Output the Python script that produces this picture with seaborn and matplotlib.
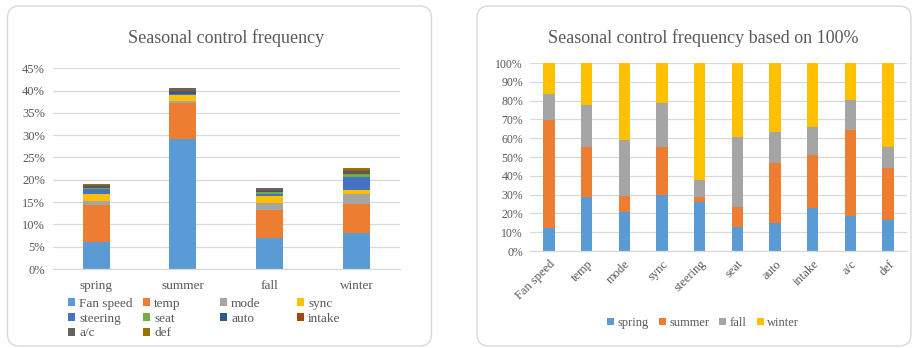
import numpy as np
import pandas as pd
import matplotlib
matplotlib.use('Agg')
import matplotlib.pyplot as plt
import seaborn as sns
from matplotlib.patches import FancyBboxPatch, Patch
from matplotlib.ticker import PercentFormatter, MultipleLocator
from matplotlib.transforms import IdentityTransform

# data
seasons = ['spring', 'summer', 'fall', 'winter']
controls = ['Fan speed', 'temp', 'mode', 'sync', 'steering', 'seat', 'auto', 'intake', 'a/c', 'def']

# share of all operations (%) per season, one list per control
fan_speed = [6.1, 29.1, 7.0, 8.1]
temp = [8.2, 8.0, 6.3, 6.4]
mode = [0.9, 0.6, 1.6, 2.3]
sync = [1.6, 1.3, 1.4, 1.0]
steering = [1.2, 0.14, 0.4, 2.9]
seat = [0.17, 0.14, 0.6, 0.5]
auto = [0.16, 0.3, 0.2, 0.4]
intake = [0.27, 0.3, 0.2, 0.4]
a_c = [0.26, 0.6, 0.4, 0.3]
defrost = [0.11, 0.19, 0.1, 0.3]

# share of each control across seasons (%), one list per season
spring_pct = [12.0, 28.8, 20.5, 29.6, 26.0, 12.9, 15.0, 22.8, 18.6, 16.5]
summer_pct = [57.6, 26.4, 8.7, 26.0, 3.0, 10.6, 31.9, 28.5, 45.7, 27.9]
fall_pct = [13.9, 22.3, 30.1, 23.2, 8.7, 37.4, 16.5, 14.5, 15.9, 11.0]
winter_pct = [16.5, 22.5, 40.7, 21.2, 62.3, 39.1, 36.6, 34.2, 19.8, 44.6]

control_colors = ['#5B9BD5', '#ED7D31', '#A5A5A5', '#FFC000', '#4472C4',
                  '#70AD47', '#255E91', '#9E480E', '#636363', '#997300']
season_colors = ['#5B9BD5', '#ED7D31', '#A5A5A5', '#FFC000']

TXT = '#595959'
GRID = '#D9D9D9'
W, H = 917, 348

sns.set_theme(style='white')
plt.rcParams['font.family'] = ['Liberation Serif', 'DejaVu Serif']


def fx(px):
    return px / W


def fy(py_top):
    # pixel from top -> figure fraction from bottom
    return (H - py_top) / H


def style_axes(ax):
    ax.set_facecolor('none')
    for s in ['top', 'right', 'left']:
        ax.spines[s].set_visible(False)
    ax.spines['bottom'].set_color(GRID)
    ax.spines['bottom'].set_linewidth(0.9)
    ax.yaxis.grid(True, color=GRID, linewidth=0.9)
    ax.xaxis.grid(False)
    ax.set_axisbelow(True)
    ax.set_xlabel('')
    ax.set_ylabel('')
    ax.yaxis.set_major_formatter(PercentFormatter(xmax=100, decimals=0))


fig = plt.figure(figsize=(W / 100, H / 100), dpi=100)

# panel frames
for x0, x1 in [(7.5, 431.5), (477, 911)]:
    box = FancyBboxPatch((x0, 2), x1 - x0, 340,
                         boxstyle='round,pad=0,rounding_size=12',
                         transform=IdentityTransform(), facecolor='white',
                         edgecolor=GRID, linewidth=1.0, zorder=-10)
    fig.patches.append(box)

# ---- left chart: stacked share per season ----
left_df = pd.DataFrame({'season': seasons, 'Fan speed': fan_speed, 'temp': temp,
                        'mode': mode, 'sync': sync, 'steering': steering,
                        'seat': seat, 'auto': auto, 'intake': intake,
                        'a/c': a_c, 'def': defrost})

ax1 = fig.add_axes([fx(52.7), fy(269), fx(400) - fx(52.7), fy(68) - fy(269)])
bottom = np.zeros(len(seasons))
for ctrl, col in zip(controls, control_colors):
    sns.barplot(data=left_df, x='season', y=ctrl, bottom=bottom, color=col,
                saturation=1, width=0.31, errorbar=None, linewidth=0,
                edgecolor='none', ax=ax1)
    bottom = bottom + left_df[ctrl].to_numpy()
style_axes(ax1)
ax1.set_ylim(0, 45.05)
ax1.yaxis.set_major_locator(MultipleLocator(5))
ax1.tick_params(axis='y', length=0, pad=5.5, labelsize=9, labelcolor=TXT)
ax1.tick_params(axis='x', length=0, pad=8, labelsize=9.5, labelcolor=TXT)
fig.text(fx(226), fy(38), 'Seasonal control frequency', ha='center', va='center',
         fontsize=13, color=TXT)

# legend laid out in 4 columns like the original
handles = [Patch(facecolor=c, edgecolor='none') for c in control_colors]
col_x = [68, 143, 220, 297]
for i, x in enumerate(col_x):
    idx = list(range(i, len(controls), 4))
    leg = fig.legend([handles[k] for k in idx], [controls[k] for k in idx],
                     loc='upper left', bbox_to_anchor=(fx(x), fy(298)),
                     frameon=False, fontsize=9.5, handlelength=0.55,
                     handleheight=0.55, handletextpad=0.3, borderpad=0,
                     borderaxespad=0, labelspacing=0.2, labelcolor=TXT)

# ---- right chart: 100% stacked per control ----
right_df = pd.DataFrame({'control': controls, 'spring': spring_pct,
                         'summer': summer_pct, 'fall': fall_pct,
                         'winter': winter_pct})

ax2 = fig.add_axes([fx(530), fy(251), fx(907) - fx(530), fy(62.7) - fy(251)])
bottom = np.zeros(len(controls))
for season, col in zip(seasons, season_colors):
    sns.barplot(data=right_df, x='control', y=season, bottom=bottom, color=col,
                saturation=1, width=0.30, errorbar=None, linewidth=0,
                edgecolor='none', ax=ax2)
    bottom = bottom + right_df[season].to_numpy()
style_axes(ax2)
ax2.set_ylim(0, 100.2)
ax2.yaxis.set_major_locator(MultipleLocator(10))
ax2.tick_params(axis='y', length=0, pad=5, labelsize=8.5, labelcolor=TXT)
ax2.tick_params(axis='x', length=0, pad=5, labelsize=9, labelcolor=TXT)
for lab in ax2.get_xticklabels():
    lab.set_rotation(45)
    lab.set_ha('right')
    lab.set_rotation_mode('anchor')
fig.text(fx(703), fy(38), 'Seasonal control frequency based on 100%', ha='center',
         va='center', fontsize=13, color=TXT)

season_handles = [Patch(facecolor=c, edgecolor='none') for c in season_colors]
fig.legend(season_handles, seasons, loc='center', bbox_to_anchor=(fx(703), fy(323)),
           ncol=4, frameon=False, fontsize=9, handlelength=0.55, handleheight=0.55,
           handletextpad=0.3, columnspacing=0.8, borderpad=0, labelcolor=TXT)

fig.savefig('out.png', dpi=100)
